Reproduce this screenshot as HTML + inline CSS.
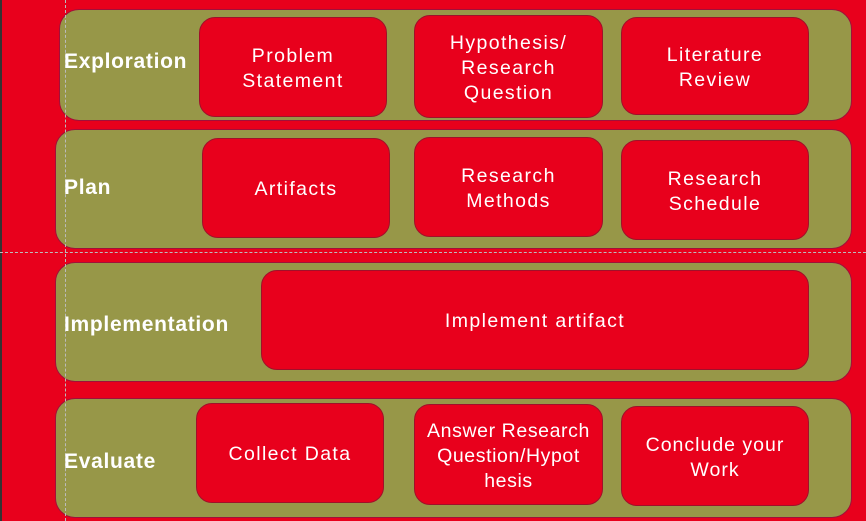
<!DOCTYPE html>
<html><head><style>
body{margin:0;width:866px;height:521px;background:#e8001c;position:relative;overflow:hidden;font-family:"Liberation Sans","DejaVu Sans",sans-serif;}
.strip{position:absolute;left:0;top:0;width:2px;height:521px;background:#333;}
.band{position:absolute;background:#979748;border-radius:20px;border:1px solid #a0103a;box-sizing:border-box;}
.lbl{position:absolute;color:#fff;font-weight:bold;font-size:21px;letter-spacing:0.7px;}
.box{position:absolute;background:#e8001c;border:1px solid #a0102a;border-radius:16px;box-sizing:border-box;display:flex;align-items:center;justify-content:center;text-align:center;color:#fff;font-size:19.5px;line-height:25px;letter-spacing:1.4px;padding-top:3px;}
.vd{position:absolute;left:65px;top:0;height:521px;border-left:1px dashed #bbb;}
.hd{position:absolute;top:252px;left:0;width:866px;border-top:1px dashed #bbb;}
</style></head><body>
<div class="strip"></div>
<div class="band" style="left:59px;top:9px;width:793px;height:112px"></div>
<div class="band" style="left:55px;top:129px;width:797px;height:120px"></div>
<div class="band" style="left:55px;top:262px;width:797px;height:120px"></div>
<div class="band" style="left:55px;top:398px;width:797px;height:120px"></div>
<div class="vd"></div><div class="hd"></div>
<div class="lbl" style="left:64px;top:50px">Exploration</div>
<div class="lbl" style="left:64px;top:176px">Plan</div>
<div class="lbl" style="left:64px;top:313px">Implementation</div>
<div class="lbl" style="left:64px;top:450px">Evaluate</div>
<div class="box" style="left:199px;top:17px;width:188px;height:100px">Problem<br>Statement</div>
<div class="box" style="left:414px;top:15px;width:189px;height:103px">Hypothesis/<br>Research<br>Question</div>
<div class="box" style="left:621px;top:17px;width:188px;height:98px">Literature<br>Review</div>
<div class="box" style="left:202px;top:138px;width:188px;height:100px">Artifacts</div>
<div class="box" style="left:414px;top:137px;width:189px;height:100px">Research<br>Methods</div>
<div class="box" style="left:621px;top:140px;width:188px;height:100px">Research<br>Schedule</div>
<div class="box" style="left:261px;top:270px;width:548px;height:100px">Implement artifact</div>
<div class="box" style="left:196px;top:403px;width:188px;height:100px">Collect Data</div>
<div class="box" style="left:414px;top:404px;width:189px;height:101px;letter-spacing:0.6px">Answer Research<br>Question/Hypot<br>hesis</div>
<div class="box" style="left:621px;top:406px;width:188px;height:100px;letter-spacing:1px">Conclude your<br>Work</div>
</body></html>
